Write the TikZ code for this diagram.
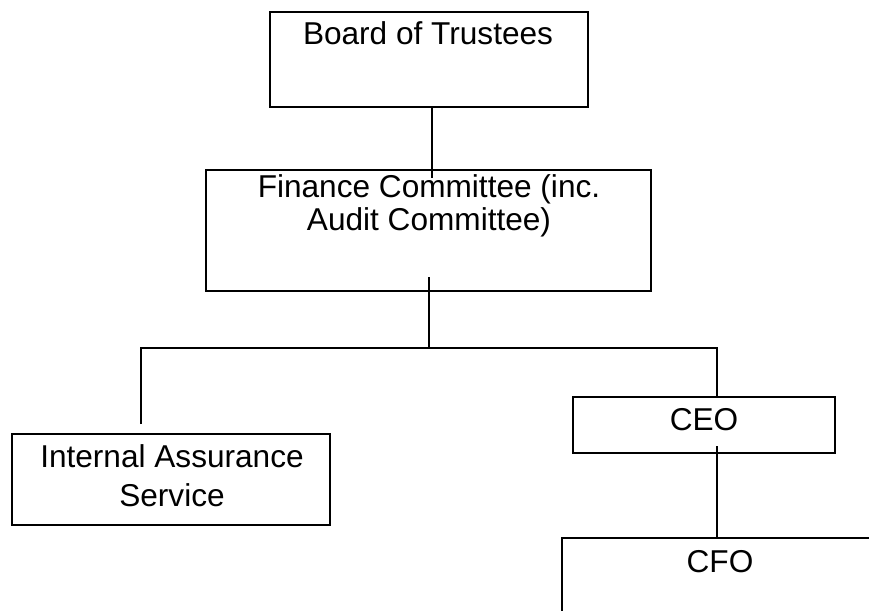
\documentclass[tikz,border=0pt]{standalone}
\usepackage{fontspec}
\setmainfont{Liberation Sans}
\begin{document}
\begin{tikzpicture}[x=1pt,y=-1pt,
  box/.style={draw, line width=2pt, inner sep=0pt},
  lbl/.style={font=\fontsize{31.6}{36}\selectfont, anchor=base, inner sep=0pt},
  conn/.style={line width=2pt}]
\useasboundingbox (0,0) rectangle (869,610);
\clip (0,0) rectangle (869,610);
% boxes
\node[box, minimum width=318pt, minimum height=95pt] (board) at (429,59.5) {};
\node[lbl] (boardt) at (428,45) {Board of Trustees};
\node[box, minimum width=445pt, minimum height=121pt] (fin) at (428.5,230.5) {};
\node[lbl] (fin1) at (429,197) {Finance Committee (inc.};
\node[lbl] (fin2) at (429,230) {Audit Committee)};
\node[box, minimum width=318pt, minimum height=91pt] (ias) at (171,479.5) {};
\node[lbl] (ias1) at (172,467) {Internal Assurance};
\node[lbl] (ias2) at (172,506) {Service};
\node[box, minimum width=262pt, minimum height=56pt] (ceo) at (704,425) {};
\node[lbl] (ceot) at (704,430) {CEO};
\node[box, minimum width=340pt, minimum height=120pt] (cfo) at (732,598) {};
\node[lbl] (cfot) at (720,572) {CFO};
% junctions
\coordinate (jm) at (429,348);
\coordinate (jl) at (141,348);
\coordinate (jr) at (717,348);
% connectors
\draw[conn] ([xshift=3pt]board.south) -- ([xshift=3.5pt,yshift=-9pt]fin.north);
\draw[conn] ([xshift=0.5pt,yshift=15pt]fin.south) -- (jm);
\draw[conn] ([yshift=9pt]ias.north -| jl) -- (jl) -- (jr) -- (ceo.north -| jr);
\draw[conn] ([yshift=8pt]ceo.south -| jr) -- (cfo.north -| jr);
\end{tikzpicture}
\end{document}
